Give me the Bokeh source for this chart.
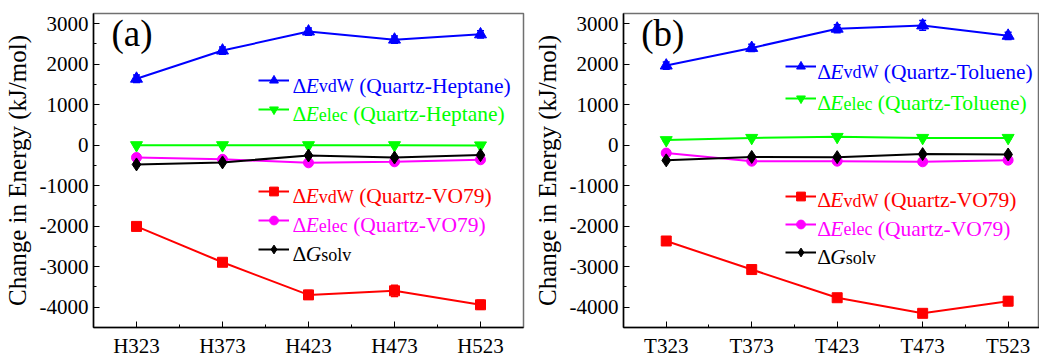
from bokeh.plotting import figure
from bokeh.models import (FixedTicker, Legend, LegendItem, Label, Whisker,
                          TeeHead, ColumnDataSource)
from bokeh.layouts import row
from bokeh.embed import file_html
from bokeh.resources import INLINE

SERIF = "'Liberation Serif', 'Times New Roman', 'DejaVu Serif', serif"

# ---------------- data ----------------
a_cats = ["H323", "H373", "H423", "H473", "H523"]
a_vdw_hep = [1640, 2335, 2805, 2605, 2735]
a_vdw_hep_err = [90, 90, 90, 90, 90]
a_elec_hep = [0, 0, 0, 0, -5]
a_elec_hep_err = [30, 30, 30, 30, 30]
a_vdw_vo = [-2005, -2890, -3695, -3595, -3940]
a_vdw_vo_err = [50, 60, 110, 140, 110]
a_elec_vo = [-305, -350, -435, -410, -360]
a_elec_vo_err = [40, 40, 40, 40, 40]
a_gsolv = [-475, -425, -255, -305, -245]
a_gsolv_err = [30, 30, 30, 30, 30]

b_cats = ["T323", "T373", "T423", "T473", "T523"]
b_vdw_tol = [1965, 2400, 2875, 2955, 2700]
b_vdw_tol_err = [90, 90, 100, 120, 90]
b_elec_tol = [125, 180, 205, 180, 180]
b_elec_tol_err = [30, 30, 30, 30, 30]
b_vdw_vo = [-2365, -3070, -3765, -4150, -3850]
b_vdw_vo_err = [50, 60, 90, 90, 110]
b_elec_vo = [-195, -395, -395, -410, -370]
b_elec_vo_err = [40, 40, 40, 40, 40]
b_gsolv = [-375, -290, -295, -220, -230]
b_gsolv_err = [30, 30, 30, 30, 30]

y_ticks = [-4000, -3000, -2000, -1000, 0, 1000, 2000, 3000]

# Times-like advance widths (per 1000 em) for legend text layout
W = {" ": 250, "(": 333, ")": 333, "-": 333, "/": 278, "Δ": 612,
     "0": 500, "1": 500, "2": 500, "3": 500, "4": 500, "5": 500, "6": 500,
     "7": 500, "8": 500, "9": 500, "A": 722, "C": 667, "E": 611, "G": 722,
     "H": 722, "O": 722, "Q": 722, "T": 611, "V": 722, "W": 944,
     "a": 444, "c": 444, "d": 500, "e": 444, "h": 500, "l": 278, "n": 500,
     "o": 500, "p": 500, "r": 333, "s": 389, "t": 278, "u": 500, "v": 500,
     "z": 444}


def tw(s, size):
    return sum(W.get(ch, 500) for ch in s) / 1000.0 * size


def base_fix(size):
    # Bokeh places an "alphabetic" label somewhat below the requested baseline
    return 0.22 * size + 3


BLUE, GREEN, RED, MAG, BLACK = "#0000FF", "#00FF00", "#FF0000", "#FF00FF", "#000000"

Y0, Y1 = -4500, 3250
FT, FH = 13, 315  # frame top and height (px)
TXT = 21.5
LEG_FIX = 6


def make_panel(cats, series, width, left, right, xend, gx0, tag, groups):
    p = figure(width=width, height=360, x_range=(0.5, xend), y_range=(Y0, Y1),
               output_backend="svg", toolbar_location=None,
               min_border_left=left, min_border_right=right,
               min_border_top=FT, min_border_bottom=360 - FT - FH)
    p.grid.visible = False
    p.outline_line_color = "#707070"
    p.outline_line_width = 1.5
    p.background_fill_color = "white"
    p.border_fill_color = "white"

    fw = width - left - right

    def dx(px):
        return 0.5 + (px - gx0 - left) / fw * (xend - 0.5)

    def dy(py):
        return Y1 - (py - FT) / FH * (Y1 - Y0)

    xs = list(range(1, len(cats) + 1))
    # axes
    p.xaxis.ticker = FixedTicker(ticks=xs, minor_ticks=[x + 0.5 for x in xs[:-1]])
    p.xaxis.major_label_overrides = {x: c for x, c in zip(xs, cats)}
    p.yaxis.ticker = FixedTicker(ticks=y_ticks,
                                 minor_ticks=[t + 500 for t in [-5000] + y_ticks])
    p.yaxis.major_label_overrides = {t: str(t) for t in y_ticks}
    p.yaxis.axis_label = "Change in Energy (kJ/mol)"
    for ax in (p.xaxis[0], p.yaxis[0]):
        ax.axis_line_color = "black"
        ax.axis_line_width = 1.5
        ax.major_tick_in = 6
        ax.major_tick_out = 0
        ax.minor_tick_in = 3
        ax.minor_tick_out = 0
        ax.major_tick_line_color = "black"
        ax.minor_tick_line_color = "black"
        ax.major_label_text_font = SERIF
        ax.major_label_text_font_size = "21px"
        ax.major_label_text_color = "black"
    p.xaxis.major_label_standoff = 6
    p.yaxis.major_label_standoff = 5
    p.yaxis.axis_label_text_font = SERIF
    p.yaxis.axis_label_text_font_size = "25px"
    p.yaxis.axis_label_text_font_style = "normal"
    p.yaxis.axis_label_text_color = "black"
    p.yaxis.axis_label_standoff = 6

    rends = {}
    for key, (vals, errs, color, marker, msize) in series.items():
        src = ColumnDataSource(dict(x=xs, y=vals,
                                    lo=[v - e for v, e in zip(vals, errs)],
                                    hi=[v + e for v, e in zip(vals, errs)]))
        w = Whisker(source=src, base="x", lower="lo", upper="hi",
                    line_color=color, line_width=1.5,
                    upper_head=TeeHead(size=7, line_color=color, line_width=1.5),
                    lower_head=TeeHead(size=7, line_color=color, line_width=1.5))
        p.add_layout(w)
        p.line("x", "y", source=src, line_color=color, line_width=2)
        p.scatter("x", "y", source=src, marker=marker, size=msize,
                  fill_color=color, line_color=color)
        # legend swatch renderers: hidden in the plot, drawn only in the legend
        lr = p.line("x", "y", source=src, line_color=color, line_width=2,
                    visible=False)
        sr = p.scatter("x", "y", source=src, marker=marker, size=9,
                       fill_color=color, line_color=color, visible=False)
        rends[key] = (lr, sr)

    # panel tag
    p.add_layout(Label(x=dx(gx0 + left + 18), y=dy(44 - base_fix(37)), text=tag,
                       text_font=SERIF, text_font_size="37px",
                       text_color="black", text_baseline="alphabetic"))

    # legends
    GH = 22
    for g in groups:
        rows_, sw_left, first_c, item_h = g
        items = []
        for i, (key, sym, sub, rest, color) in enumerate(rows_):
            lr, sr = rends[key]
            items.append(LegendItem(label=" ", renderers=[lr, sr]))
            cy = first_c + i * item_h
            tx = dx(sw_left + 34)
            off = 0.0
            for txt, style, size in (("Δ", "normal", TXT), (sym, "italic", TXT),
                                     (sub, "normal", 18), (rest, "normal", TXT)):
                if not txt:
                    continue
                lead = len(txt) - len(txt.lstrip(" "))
                off += tw(" " * lead, size)
                txt = txt.lstrip(" ")
                p.add_layout(Label(x=tx, y=dy(cy + 6 - base_fix(size)),
                                   x_offset=off, text=txt,
                                   text_font=SERIF, text_font_size=f"{size}px",
                                   text_font_style=style, text_color=color,
                                   text_baseline="alphabetic", text_align="left"))
                off += tw(txt, size)
        n = len(rows_)
        top = first_c - GH / 2
        bottom = top + (n - 1) * item_h + GH
        leg = Legend(items=items,
                     location=(sw_left - gx0 - left, FT + FH - bottom + LEG_FIX),
                     padding=0, margin=0, spacing=int(round(item_h - GH)),
                     glyph_width=31, glyph_height=GH, label_height=GH,
                     label_width=0, label_standoff=0,
                     label_text_font_size="2px",
                     border_line_color=None, background_fill_alpha=0)
        p.add_layout(leg, "center")
    return p


series_a = {
    "vdw_s": (a_vdw_hep, a_vdw_hep_err, BLUE, "triangle", 12),
    "elec_s": (a_elec_hep, a_elec_hep_err, GREEN, "inverted_triangle", 12),
    "vdw_v": (a_vdw_vo, a_vdw_vo_err, RED, "square", 10),
    "elec_v": (a_elec_vo, a_elec_vo_err, MAG, "circle", 10),
    "g": (a_gsolv, a_gsolv_err, BLACK, "diamond", 13),
}
series_b = {
    "vdw_s": (b_vdw_tol, b_vdw_tol_err, BLUE, "triangle", 12),
    "elec_s": (b_elec_tol, b_elec_tol_err, GREEN, "inverted_triangle", 12),
    "vdw_v": (b_vdw_vo, b_vdw_vo_err, RED, "square", 10),
    "elec_v": (b_elec_vo, b_elec_vo_err, MAG, "circle", 10),
    "g": (b_gsolv, b_gsolv_err, BLACK, "diamond", 13),
}

lower_rows = [("vdw_v", "E", "vdW", " (Quartz-VO79)", RED),
              ("elec_v", "E", "elec", " (Quartz-VO79)", MAG),
              ("g", "G", "solv", "", BLACK)]

groups_a = [
    ([("vdw_s", "E", "vdW", " (Quartz-Heptane)", BLUE),
      ("elec_s", "E", "elec", " (Quartz-Heptane)", GREEN)], 258, 87, 29),
    (lower_rows, 258, 198, 29),
]
groups_b = [
    ([("vdw_s", "E", "vdW", " (Quartz-Toluene)", BLUE),
      ("elec_s", "E", "elec", " (Quartz-Toluene)", GREEN)], 780, 73, 32),
    (lower_rows, 780, 202, 28.5),
]

pa = make_panel(a_cats, series_a, 530, 93, 7, 5.5, 0, "(a)", groups_a)
pb = make_panel(b_cats, series_b, 509, 88, 0, 0.5 + 421 / 86.5, 530, "(b)", groups_b)

layout = row(pa, pb)
open("out.html", "w").write(file_html(layout, INLINE))
